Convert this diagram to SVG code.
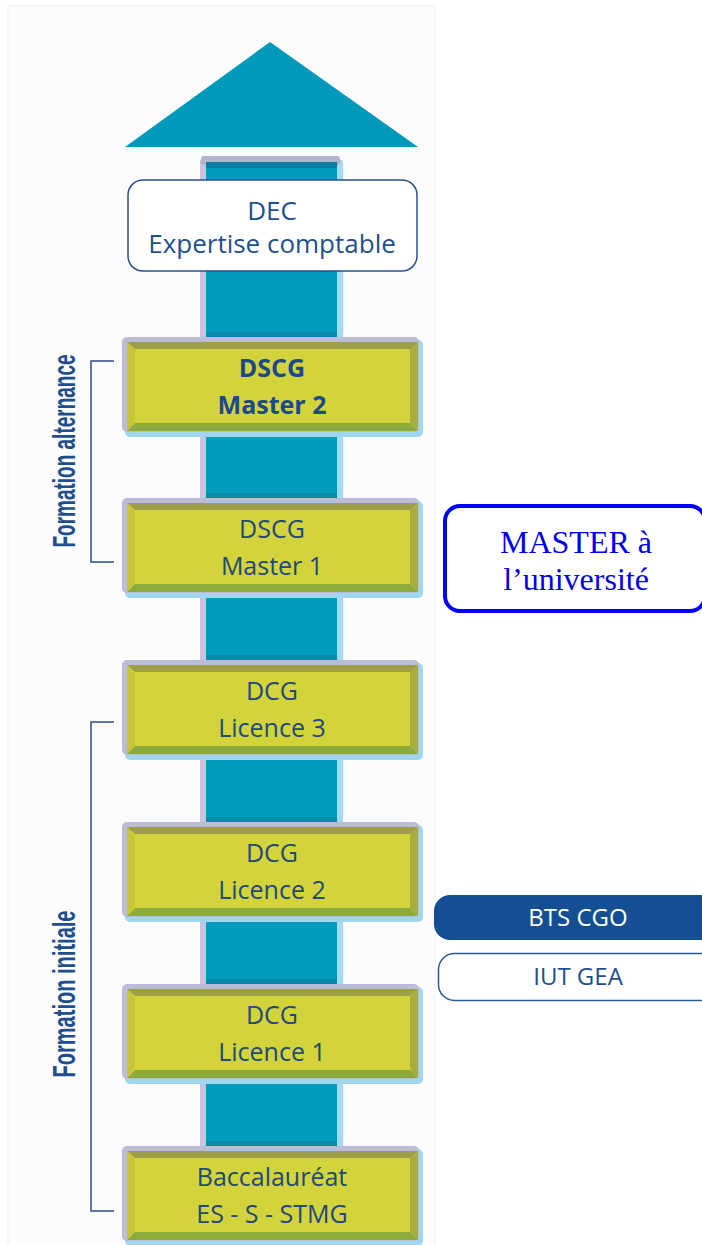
<svg xmlns="http://www.w3.org/2000/svg" width="702" height="1245" viewBox="0 0 702 1245">
<style>
.lbl{font-family:"Open Sans","Noto Sans","DejaVu Sans",sans-serif;font-size:25px;fill:#22497a;text-anchor:middle}
.bold{font-weight:bold;fill:#1b4a8c}
.side{font-family:"Liberation Sans","DejaVu Sans",sans-serif;font-size:32px;font-weight:bold;fill:#1f4e8e;text-anchor:middle}
.serif{font-family:"Liberation Serif","Times New Roman",serif;font-size:32px;fill:#0000ee;text-anchor:middle}
.br{fill:none;stroke:#2a4a8a;stroke-width:1.5}
.lb{fill:#a0d6f0}.lav{fill:#babcd8}.tb{fill:#9e9e46}.bb{fill:#8dab3c}.lf{fill:#c6c636}.rt{fill:#a7ae3e}.face{fill:#d3d33b}
.shadow{fill:#0a89aa}
</style>
<defs>
<g id="bevel">
<rect x="125" y="3" width="298" height="97" rx="5" class="lb"/>
<rect x="122" y="0" width="297" height="95" rx="5" class="lav"/>
<polygon points="127,5 418,5 410,12 135,12" class="tb"/>
<polygon points="127,94 418,94 410,86 135,86" class="bb"/>
<polygon points="127,5 135,12 135,86 127,94" class="lf"/>
<polygon points="418,5 410,12 410,86 418,94" class="rt"/>
<rect x="135" y="12" width="275" height="74" class="face"/>
</g>
</defs>
<rect x="8" y="6" width="427" height="1245" fill="#fcfcfc" stroke="#f2f2f2" stroke-width="1"/>
<g id="arrow">
<polygon points="270,42 418,147 125,147" fill="#0099b9"/>
<rect x="200" y="160" width="6" height="1085" fill="#c4c6de"/>
<rect x="337" y="160" width="6" height="1085" fill="#a6daf2"/>
<rect x="206" y="160" width="131" height="1085" fill="#009bbd"/>
<rect x="201" y="156" width="139" height="9" rx="3" fill="#b2b5cd"/>
<rect x="206" y="162" width="131" height="6" fill="#0a7fa3"/>
<rect x="206" y="332" width="131" height="5" class="shadow"/>
<rect x="206" y="493" width="131" height="5" class="shadow"/>
<rect x="206" y="655" width="131" height="5" class="shadow"/>
<rect x="206" y="817" width="131" height="5" class="shadow"/>
<rect x="206" y="979" width="131" height="5" class="shadow"/>
<rect x="206" y="1141" width="131" height="5" class="shadow"/>
</g>
<g id="dec">
<rect x="128" y="180" width="289" height="91" rx="15" fill="#ffffff" stroke="#2a5090" stroke-width="1.5"/>
<text x="272" y="220" class="lbl" style="font-size:26px;fill:#1f4f8f">DEC</text>
<text x="272" y="253" class="lbl" style="font-size:26px;fill:#1f4f8f">Expertise comptable</text>
</g>
<g id="dscg2" transform="translate(0,337)">
<use href="#bevel"/>
<text x="272" y="40" class="lbl bold">DSCG</text>
<text x="272" y="77" class="lbl bold">Master 2</text>
</g>
<g id="dscg1" transform="translate(0,498)">
<use href="#bevel"/>
<text x="272" y="40" class="lbl">DSCG</text>
<text x="272" y="77" class="lbl">Master 1</text>
</g>
<g id="dcg3" transform="translate(0,660)">
<use href="#bevel"/>
<text x="272" y="40" class="lbl">DCG</text>
<text x="272" y="77" class="lbl">Licence 3</text>
</g>
<g id="dcg2" transform="translate(0,822)">
<use href="#bevel"/>
<text x="272" y="40" class="lbl">DCG</text>
<text x="272" y="77" class="lbl">Licence 2</text>
</g>
<g id="dcg1" transform="translate(0,984)">
<use href="#bevel"/>
<text x="272" y="40" class="lbl">DCG</text>
<text x="272" y="77" class="lbl">Licence 1</text>
</g>
<g id="bac" transform="translate(0,1146)">
<use href="#bevel"/>
<text x="272" y="40" class="lbl">Baccalauréat</text>
<text x="272" y="77" class="lbl">ES - S - STMG</text>
</g>
<g id="connectors">
<polyline points="114,361 91,361 91,562 114,562" class="br"/>
<polyline points="114,722 91,722 91,1211 114,1211" class="br"/>
</g>
<g id="alternance">
<text class="side" transform="translate(75,451) rotate(-90)" textLength="193" lengthAdjust="spacingAndGlyphs">Formation alternance</text>
</g>
<g id="initiale">
<text class="side" transform="translate(75,994) rotate(-90)" textLength="167" lengthAdjust="spacingAndGlyphs">Formation initiale</text>
</g>
<g id="master">
<rect x="445" y="506" width="260" height="105" rx="15" fill="#ffffff" stroke="#0000ff" stroke-width="4"/>
<text x="576" y="553" class="serif">MASTER à</text>
<text x="576" y="590" class="serif">l’université</text>
</g>
<g id="bts">
<rect x="434" y="895" width="290" height="45" rx="16" fill="#134f92"/>
<text x="578" y="926" class="lbl" style="font-size:24px;fill:#ffffff">BTS CGO</text>
</g>
<g id="iut">
<rect x="438.5" y="953.5" width="290" height="47" rx="16" fill="#ffffff" stroke="#2a5a9a" stroke-width="1.5"/>
<text x="578" y="985" class="lbl" style="font-size:24px;fill:#1f4f8f">IUT GEA</text>
</g>
</svg>
